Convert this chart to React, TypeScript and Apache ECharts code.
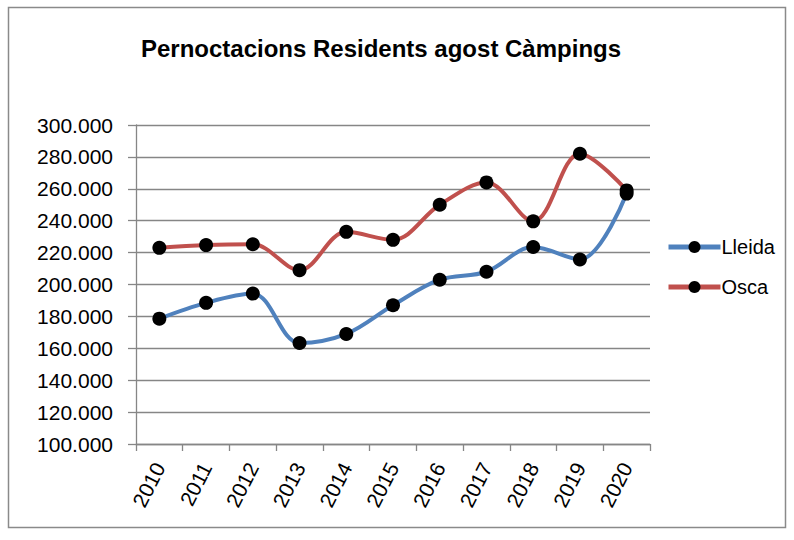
import React, { useEffect, useRef } from "react";
import * as echarts from "echarts";

const years = ["2010", "2011", "2012", "2013", "2014", "2015", "2016", "2017", "2018", "2019", "2020"];
const lleida = [178600, 188500, 194300, 163300, 169000, 187000, 203000, 208000, 223500, 215700, 257000];
const osca = [223000, 224700, 225200, 209000, 233000, 228000, 250000, 264000, 239600, 282000, 259000];
const titleText = "Pernoctacions Residents agost Càmpings";

const fmt = (v: number) => {
  const s = Math.round(v).toString();
  return s.replace(/\B(?=(\d{3})+(?!\d))/g, ".");
};

export default function App() {
  const ref = useRef<HTMLDivElement>(null);
  useEffect(() => {
    if (!ref.current) return;
    const chart = echarts.init(ref.current, null, { renderer: "svg" });
    const font = "Liberation Sans, Arial, sans-serif";
    const gray = "#868686";
    chart.setOption({
      animation: false,
      backgroundColor: "#ffffff",
      textStyle: { fontFamily: font },
      title: {
        text: titleText,
        left: 376,
        top: 31,
        textAlign: "center",
        textStyle: { fontFamily: font, fontWeight: "bold", fontSize: 24, color: "#000" },
      },
      graphic: [
        {
          type: "rect",
          shape: { x: 8.5, y: 7.5, width: 777, height: 520 },
          style: { fill: "none", stroke: "#8a8a8a", lineWidth: 1.5 },
          silent: true,
        },
      ],
      legend: {
        orient: "vertical",
        left: 661,
        top: 232,
        itemWidth: 52,
        itemHeight: 15,
        itemGap: 20,
        lineStyle: { width: 5 },
        textStyle: { fontFamily: font, fontSize: 20, color: "#000", padding: [0, 0, 0, -4] },
        data: ["Lleida", "Osca"],
      },
      grid: { left: 136, right: 144, top: 125, bottom: 96 },
      xAxis: {
        type: "category",
        data: years,
        boundaryGap: true,
        axisLine: { lineStyle: { color: gray, width: 1.3 } },
        axisTick: { show: true, length: 7, alignWithLabel: false, lineStyle: { color: gray, width: 1.3 } },
        axisLabel: {
          rotate: 63,
          fontFamily: font,
          fontSize: 21,
          color: "#000",
          margin: 20,
        },
      },
      yAxis: {
        type: "value",
        min: 100000,
        max: 300000,
        interval: 20000,
        axisLine: { show: true, lineStyle: { color: gray, width: 1.3 } },
        axisTick: { show: true, length: 8, lineStyle: { color: gray, width: 1.3 } },
        splitLine: { lineStyle: { color: gray, width: 1.3 } },
        axisLabel: {
          formatter: (v: number) => fmt(v),
          fontFamily: font,
          fontSize: 21,
          color: "#000",
          margin: 23,
        },
      },
      series: [
        {
          name: "Lleida",
          type: "line",
          data: lleida,
          smooth: 0.35,
          symbol: "circle",
          symbolSize: 14,
          itemStyle: { color: "#000000" },
          lineStyle: { color: "#4F81BD", width: 4 },
          z: 2,
        },
        {
          name: "Osca",
          type: "line",
          data: osca,
          smooth: 0.35,
          symbol: "circle",
          symbolSize: 14,
          itemStyle: { color: "#000000" },
          lineStyle: { color: "#C0504D", width: 4 },
          z: 3,
        },
      ],
    });
    return () => chart.dispose();
  }, []);
  return (
    <div
      ref={ref}
      style={{ position: "fixed", left: 0, top: 0, width: 794, height: 540 }}
    />
  );
}
